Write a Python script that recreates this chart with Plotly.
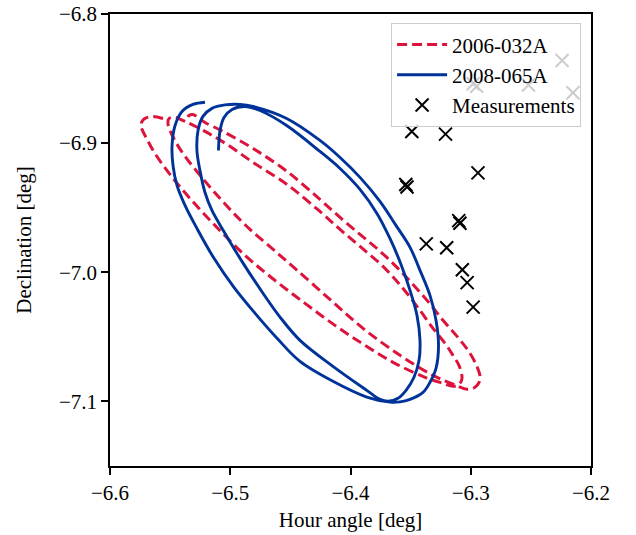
import plotly.graph_objects as go

# ---- data (hour angle / declination in degrees) ----
red_ha = [-6.5559, -6.5642, -6.5701, -6.5734, -6.5742, -6.5726, -6.5692, -6.5626, -6.5501, -6.5335,
          -6.5127, -6.4877, -6.4628, -6.4378, -6.4129, -6.3879, -6.3630, -6.3380, -6.3231, -6.3148,
          -6.3098, -6.3073,
          -6.3098, -6.3148, -6.3214, -6.3314, -6.3422, -6.3563, -6.3730, -6.3921, -6.4087, -6.4254,
          -6.4528, -6.4811, -6.5027, -6.5210, -6.5376, -6.5459, -6.5509, -6.5518,
          -6.5501, -6.5451, -6.5376, -6.5277, -6.5152, -6.5002, -6.4836, -6.4653, -6.4462, -6.4171,
          -6.3896, -6.3588, -6.3314, -6.3123, -6.3031, -6.2965, -6.2931, -6.2923,
          -6.2956, -6.3023, -6.3114, -6.3231, -6.3356, -6.3489, -6.3622, -6.3771, -6.3921, -6.4087,
          -6.4254, -6.4528, -6.4811, -6.5060, -6.5210, -6.5268, -6.5310, -6.5343, -6.5360]
red_dec = [-6.8809, -6.8793, -6.8805, -6.8832, -6.8871, -6.8909, -6.8971, -6.9080, -6.9242, -6.9428,
           -6.9637, -6.9869, -7.0063, -7.0241, -7.0411, -7.0566, -7.0705, -7.0813, -7.0860, -7.0883,
           -7.0868, -7.0821,
           -7.0721, -7.0643, -7.0550, -7.0434, -7.0295, -7.0125, -6.9954, -6.9800, -6.9668, -6.9529,
           -6.9320, -6.9149, -6.9010, -6.8909, -6.8832, -6.8801, -6.8809, -6.8848,
           -6.8902, -6.8995, -6.9103, -6.9219, -6.9358, -6.9513, -6.9668, -6.9815, -6.9970, -7.0210,
           -7.0434, -7.0643, -7.0798, -7.0875, -7.0906, -7.0891, -7.0852, -7.0806,
           -7.0713, -7.0604, -7.0496, -7.0372, -7.0225, -7.0086, -6.9954, -6.9823, -6.9707, -6.9575,
           -6.9436, -6.9219, -6.9041, -6.8909, -6.8840, -6.8801, -6.8778, -6.8786, -6.8817]

blue_ha = [-6.5210, -6.5310, -6.5401, -6.5459, -6.5484, -6.5476, -6.5443, -6.5376, -6.5277, -6.5135,
           -6.4969, -6.4786, -6.4603, -6.4420, -6.4146, -6.3865, -6.3672, -6.3588, -6.3505, -6.3397,
           -6.3339, -6.3289, -6.3268, -6.3289, -6.3339, -6.3422, -6.3505, -6.3622, -6.3755, -6.3921,
           -6.4087, -6.4254, -6.4531, -6.4811, -6.4919, -6.5044, -6.5152, -6.5227, -6.5268, -6.5277,
           -6.5252, -6.5210, -6.5152, -6.5058, -6.4891, -6.4725, -6.4586, -6.4420, -6.4146, -6.3865,
           -6.3755, -6.3688, -6.3605, -6.3538, -6.3472, -6.3430, -6.3422, -6.3447, -6.3505, -6.3580,
           -6.3672, -6.3780, -6.3921, -6.4087, -6.4254, -6.4531, -6.4753, -6.4877, -6.4985, -6.5052,
           -6.5085, -6.5098]
blue_dec = [-6.8683, -6.8700, -6.8755, -6.8863, -6.9018, -6.9173, -6.9327, -6.9482, -6.9660, -6.9892,
            -7.0117, -7.0326, -7.0519, -7.0690, -7.0844, -7.0966, -7.1005, -7.1003, -7.0984, -7.0930,
            -7.0852, -7.0744, -7.0566, -7.0372, -7.0179, -6.9985, -6.9807, -6.9637, -6.9451, -6.9265,
            -6.9111, -6.8979, -6.8809, -6.8716, -6.8700, -6.8704, -6.8731, -6.8793, -6.8902, -6.9057,
            -6.9211, -6.9382, -6.9521, -6.9676, -6.9933, -7.0166, -7.0347, -7.0527, -7.0728, -7.0914,
            -7.0984, -7.0999, -7.0976, -7.0914, -7.0813, -7.0682, -7.0527, -7.0334, -7.0140, -6.9939,
            -6.9738, -6.9544, -6.9358, -6.9196, -6.9064, -6.8863, -6.8747, -6.8716, -6.8739, -6.8801,
            -6.8902, -6.9057]

meas_ha = [-6.349, -6.321, -6.294, -6.354, -6.353, -6.310, -6.309, -6.337, -6.320, -6.307, -6.303,
           -6.298, -6.298, -6.295, -6.252, -6.224, -6.215]
meas_dec = [-6.891, -6.893, -6.923, -6.932, -6.934, -6.960, -6.962, -6.978, -6.981, -6.998, -7.008,
            -7.027, -6.854, -6.856, -6.855, -6.836, -6.861]

x_ticks = [-6.6, -6.5, -6.4, -6.3, -6.2]
x_tick_labels = ["\u22126.6", "\u22126.5", "\u22126.4", "\u22126.3", "\u22126.2"]
y_ticks = [-6.8, -6.9, -7.0, -7.1]
y_tick_labels = ["\u22126.8", "\u22126.9", "\u22127.0", "\u22127.1"]
x_range = [-6.6, -6.2]
y_range = [-7.15, -6.8]

RED = "#DC143C"
BLUE = "#003399"
FONT = "Liberation Serif, Times New Roman, serif"
FS = 21

fig = go.Figure()
fig.add_trace(go.Scatter(x=red_ha, y=red_dec, mode="lines", name="2006-032A",
                         line=dict(color=RED, width=3, dash="10px,5px", shape="spline", smoothing=1.0),
                         legendgroup="a"))
fig.add_trace(go.Scatter(x=blue_ha, y=blue_dec, mode="lines", name="2008-065A",
                         line=dict(color=BLUE, width=2.9, shape="spline", smoothing=1.0),
                         legendgroup="b"))
fig.add_trace(go.Scatter(x=meas_ha, y=meas_dec, mode="markers", name="Measurements",
                         marker=dict(symbol="x-thin", size=13, color="black",
                                     line=dict(color="black", width=2)),
                         legendgroup="c"))

axis_common = dict(showline=True, linecolor="black", linewidth=1.5, mirror=True,
                   ticks="outside", ticklen=7, tickwidth=1.5, tickcolor="black",
                   showgrid=False, zeroline=False, automargin=False,
                   tickfont=dict(family=FONT, size=FS, color="black"))

fig.update_xaxes(range=x_range, tickvals=x_ticks, ticktext=x_tick_labels,
                 title=dict(text="Hour angle [deg]", font=dict(family=FONT, size=FS, color="black"),
                            standoff=8),
                 **axis_common)
fig.update_yaxes(range=y_range, tickvals=y_ticks, ticktext=y_tick_labels,
                 title=dict(text="Declination [deg]", font=dict(family=FONT, size=FS, color="black"),
                            standoff=22),
                 **axis_common)

fig.update_layout(
    width=636, height=535,
    margin=dict(l=110, r=45, t=14, b=69),
    paper_bgcolor="white", plot_bgcolor="white",
    font=dict(family=FONT, size=FS, color="black"),
    legend=dict(x=0.979, y=0.98, xanchor="right", yanchor="top",
                bgcolor="rgba(255,255,255,0.8)", bordercolor="#cccccc", borderwidth=1.2,
                font=dict(family=FONT, size=FS, color="black"),
                traceorder="grouped", tracegroupgap=0, itemwidth=50),
    showlegend=True,
)

fig.write_html("out.html", config={"displayModeBar": False},
               post_script="document.body.style.margin='0';document.body.style.overflow='hidden';")
